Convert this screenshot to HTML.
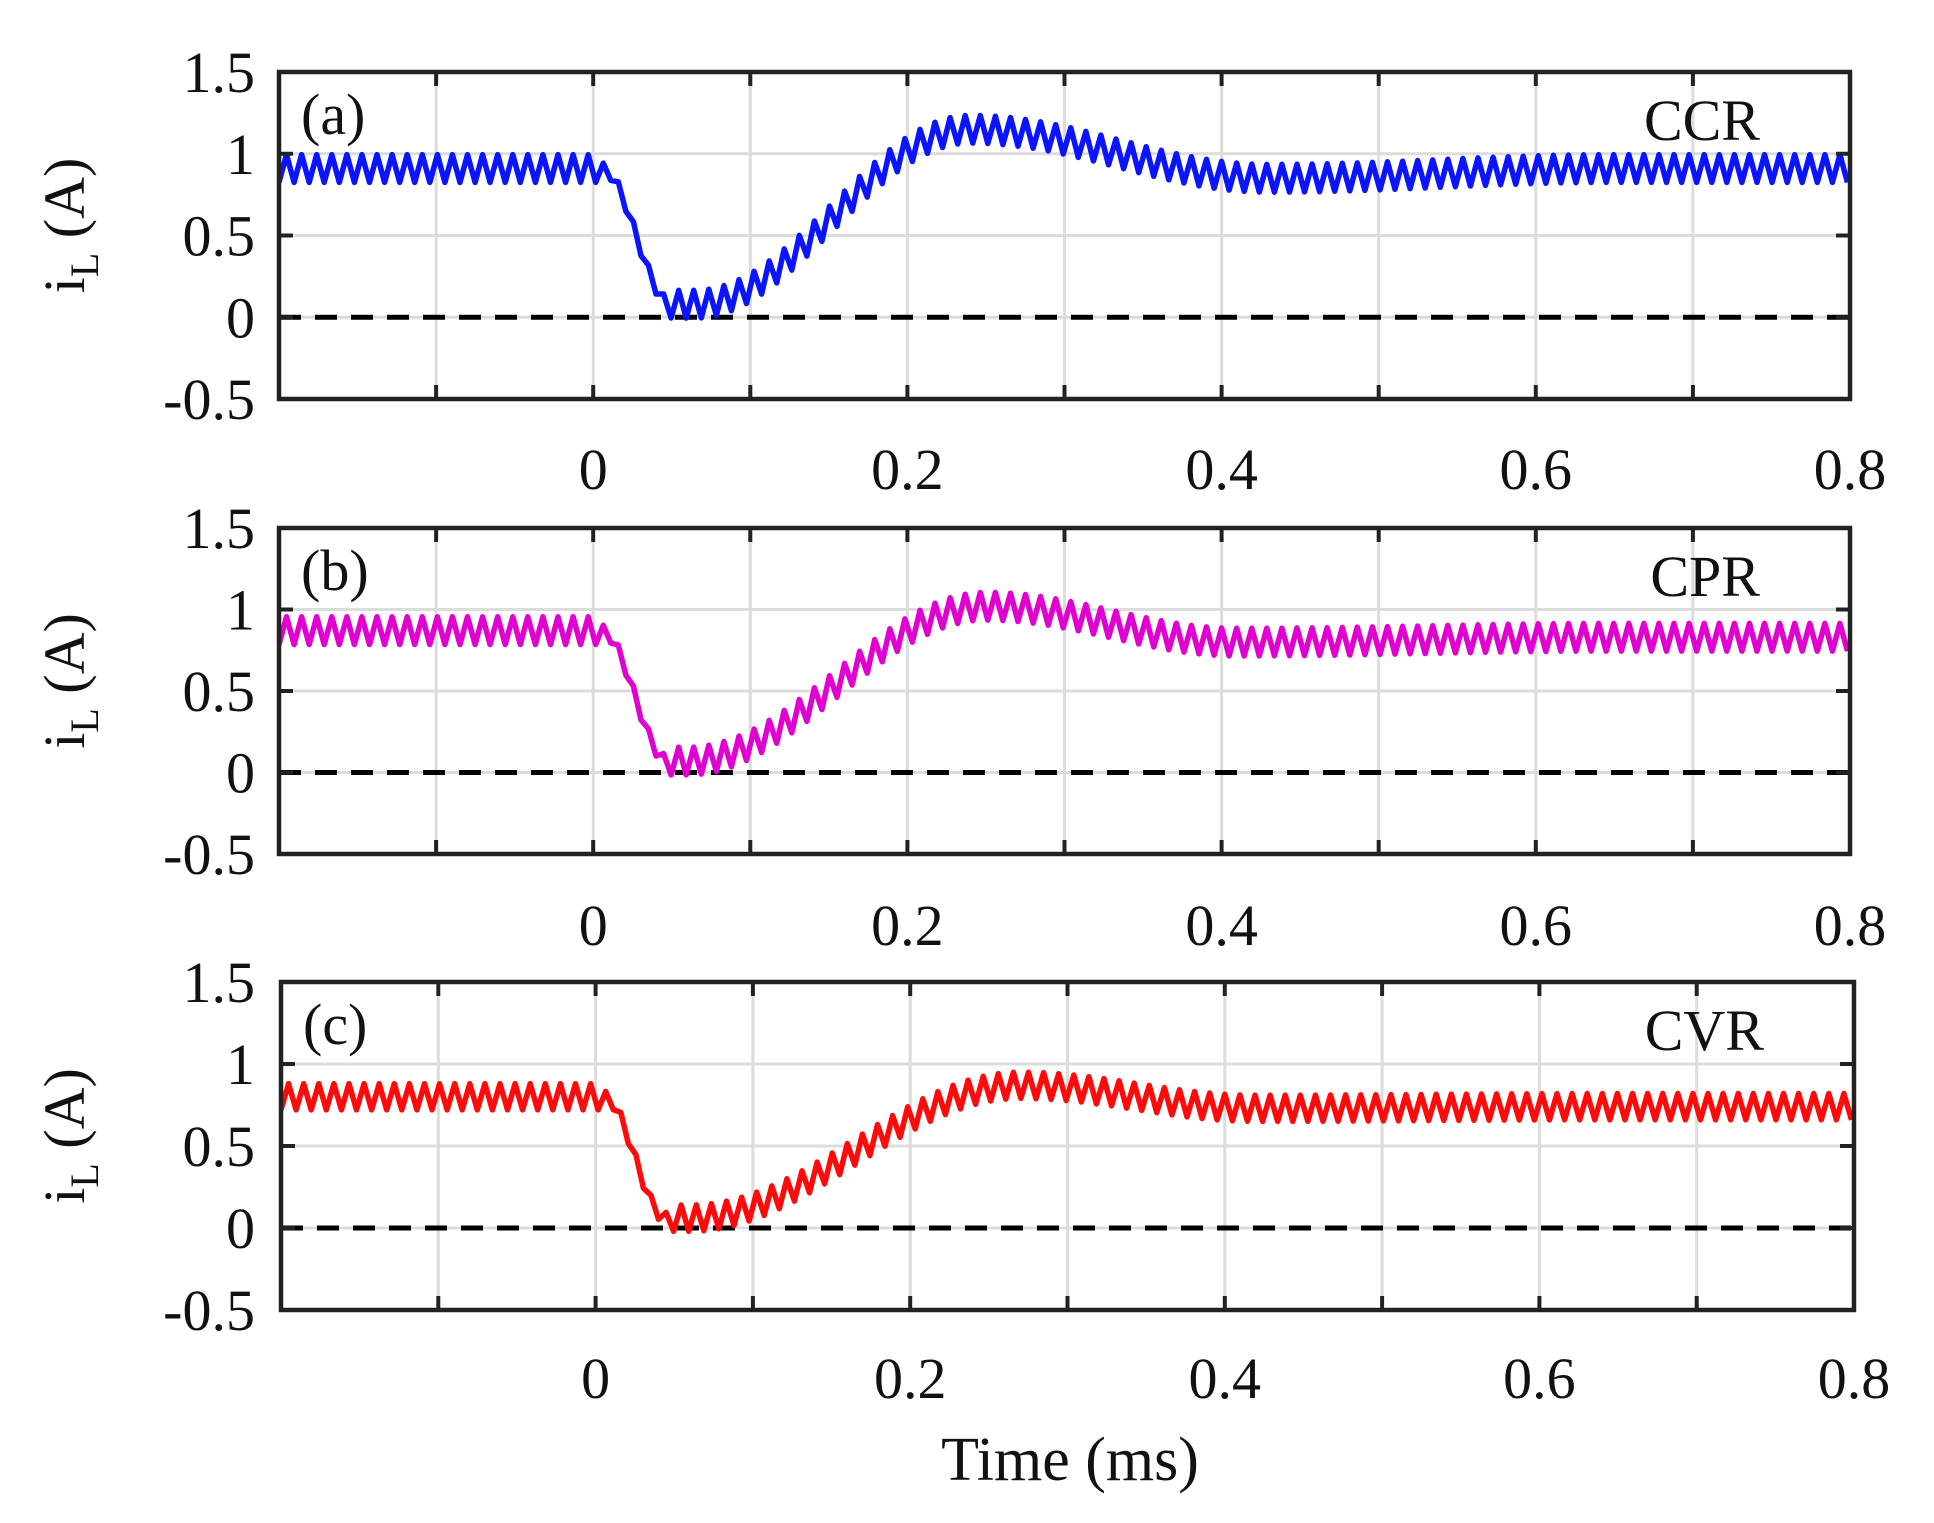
<!DOCTYPE html>
<html><head><meta charset="utf-8"><style>
html,body{margin:0;padding:0;background:#fff;}
svg{display:block;}
text{font-family:"Liberation Serif",serif;fill:#111;}
</style></head><body>
<svg id="s" width="1934" height="1523" viewBox="0 0 1934 1523" xmlns="http://www.w3.org/2000/svg"></svg>
<script>
const S=document.getElementById('s');
let out='';
const panels=[
 {L:279,R:1850,T:72,B:399,lab:'(a)',name:'CCR',col:'#0a14ff',xl:489,
  pts:[[-0.21,0.91],[0.005,0.91],[0.05,0.08],[0.065,0.08],[0.24,1.15],[0.43,0.85],[0.65,0.91],[0.81,0.91]],amp:0.085},
 {L:279,R:1850,T:528,B:854,lab:'(b)',name:'CPR',col:'#e000d0',xl:945,
  pts:[[-0.21,0.87],[0.005,0.87],[0.048,0.07],[0.06,0.07],[0.25,1.02],[0.41,0.8],[0.65,0.83],[0.81,0.83]],amp:0.085},
 {L:281,R:1854,T:982,B:1310,lab:'(c)',name:'CVR',col:'#ff0a0a',xl:1398,
  pts:[[-0.21,0.8],[0.005,0.8],[0.045,0.06],[0.06,0.06],[0.27,0.87],[0.42,0.73],[0.65,0.74],[0.81,0.74]],amp:0.08}
];
function interp(p,t){
  for(let i=0;i<p.length-1;i++){
    if(t>=p[i][0]&&t<=p[i+1][0]){
      const u=(t-p[i][0])/(p[i+1][0]-p[i][0]);
      const w=(1-Math.cos(Math.PI*u))/2;
      return p[i][1]+(p[i+1][1]-p[i][1])*w;
    }
  }
  return p[p.length-1][1];
}
panels.forEach(P=>{
  const X=t=>P.L+(t+0.2)/1.0*(P.R-P.L);
  const Y=v=>P.B-(v+0.5)/2*(P.B-P.T);
  for(let k=-1;k<=7;k++){const x=X(k/10);out+=`<line x1="${x}" y1="${P.T}" x2="${x}" y2="${P.B}" stroke="#dcdcdc" stroke-width="3"/>`;}
  [1.0,0.5,0].forEach(v=>{out+=`<line x1="${P.L}" y1="${Y(v)}" x2="${P.R}" y2="${Y(v)}" stroke="#dcdcdc" stroke-width="3"/>`;});
  out+=`<line x1="${P.L}" y1="${Y(0)}" x2="${P.R}" y2="${Y(0)}" stroke="#000" stroke-width="5" stroke-dasharray="22,14"/>`;
  let d='';const per=0.0096;
  const clip='c'+P.name;
  out+=`<clipPath id="${clip}"><rect x="${P.L}" y="${P.T}" width="${P.R-P.L}" height="${P.B-P.T}"/></clipPath>`;
  for(let t=-0.2;t<=0.8;t+=per/2){
    const half=Math.round((t+0.2)/(per/2));
    let a=P.amp; if(t>0.005&&t<0.045)a=0.035;
    const v=interp(P.pts,t)+(half%2===0?-a:a);
    d+=(d?'L':'M')+X(t).toFixed(1)+','+Y(v).toFixed(1);
  }
  out+=`<path d="${d}" fill="none" stroke="${P.col}" stroke-width="5.5" stroke-linejoin="round" clip-path="url(#${clip})"/>`;
  for(let k=-1;k<=7;k++){const x=X(k/10);
    out+=`<line x1="${x}" y1="${P.T}" x2="${x}" y2="${P.T+14}" stroke="#222" stroke-width="4"/>`;
    out+=`<line x1="${x}" y1="${P.B}" x2="${x}" y2="${P.B-14}" stroke="#222" stroke-width="4"/>`;}
  [1.0,0.5,0].forEach(v=>{const y=Y(v);
    out+=`<line x1="${P.L}" y1="${y}" x2="${P.L+14}" y2="${y}" stroke="#222" stroke-width="4"/>`;
    out+=`<line x1="${P.R}" y1="${y}" x2="${P.R-14}" y2="${y}" stroke="#222" stroke-width="4"/>`;});
  out+=`<rect x="${P.L}" y="${P.T}" width="${P.R-P.L}" height="${P.B-P.T}" fill="none" stroke="#222" stroke-width="4.5"/>`;
  [['1.5',1.5],['1',1],['0.5',0.5],['0',0],['-0.5',-0.5]].forEach(([s,v])=>{
    out+=`<text x="255" y="${Y(v)+20}" font-size="58" text-anchor="end">${s}</text>`;});
  [['0',0],['0.2',0.2],['0.4',0.4],['0.6',0.6],['0.8',0.8]].forEach(([s,v])=>{
    out+=`<text x="${X(v)}" y="${P.xl}" font-size="58" text-anchor="middle">${s}</text>`;});
  out+=`<text x="${P.L+22}" y="${P.T+62}" font-size="58">${P.lab}</text>`;
  out+=`<text x="${P.R-90}" y="${P.T+68}" font-size="58" text-anchor="end">${P.name}</text>`;
  const cy=(P.T+P.B)/2-10;
  out+=`<text transform="translate(84,${cy}) rotate(-90)" font-size="58" text-anchor="middle">i<tspan font-size="40" dy="14">L</tspan><tspan dy="-14"> (A)</tspan></text>`;
});
out+=`<text x="1070" y="1480" font-size="62" text-anchor="middle">Time (ms)</text>`;
S.innerHTML=out;
</script>
</body></html>
